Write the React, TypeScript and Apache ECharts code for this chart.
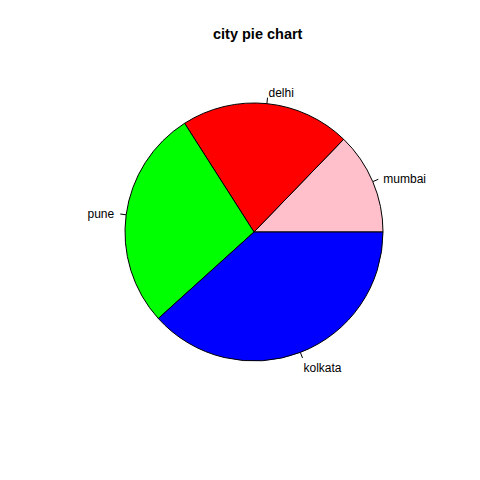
import React, { useEffect, useRef } from "react";
import * as echarts from "echarts";

const cities = ["mumbai", "delhi", "pune", "kolkata"];
const values = [12, 20, 26, 36];
const colors = ["#FFC0CB", "#FF0000", "#00FF00", "#0000FF"];
// per-label tweaks to mimic R's label placement at 1.1 * radius
const labelGap = [5, 1, 6, 1];
const labelFormat = ["{b}", "{b}\n{s| }", "{b}", "{d| }\n{b}"];

export default function App() {
  const ref = useRef<HTMLDivElement>(null);
  useEffect(() => {
    if (!ref.current) return;
    const chart = echarts.init(ref.current, null, { renderer: "svg" });
    chart.setOption({
      animation: false,
      backgroundColor: "#ffffff",
      title: {
        text: "city pie chart",
        left: 208,
        top: 21,
        textStyle: {
          fontFamily: "Liberation Sans, Arial, sans-serif",
          fontSize: 14.5,
          fontWeight: "bold",
          color: "#000",
        },
      },
      series: [
        {
          type: "pie",
          center: [254, 232],
          radius: 129,
          startAngle: 0,
          clockwise: false,
          minShowLabelAngle: 0,
          avoidLabelOverlap: false,
          data: cities.map((c, i) => ({
            name: c,
            value: values[i],
            itemStyle: { color: colors[i] },
            label: {
              distanceToLabelLine: labelGap[i],
              formatter: labelFormat[i],
            },
          })),
          itemStyle: { borderColor: "#000", borderWidth: 1 },
          label: {
            show: true,
            position: "outside",
            formatter: "{b}",
            fontFamily: "Liberation Sans, Arial, sans-serif",
            fontSize: 12,
            lineHeight: 14,
            color: "#000",
            rich: {
              s: { fontSize: 1, lineHeight: 9 },
              d: { fontSize: 1, lineHeight: 21 },
            },
          },
          labelLine: {
            show: true,
            length: 6,
            length2: 0,
            lineStyle: { color: "#000", width: 1 },
          },
          emphasis: { disabled: true },
        },
      ],
    });
    return () => chart.dispose();
  }, []);
  return (
    <div
      ref={ref}
      style={{ position: "fixed", left: 0, top: 0, width: 480, height: 480 }}
    />
  );
}
